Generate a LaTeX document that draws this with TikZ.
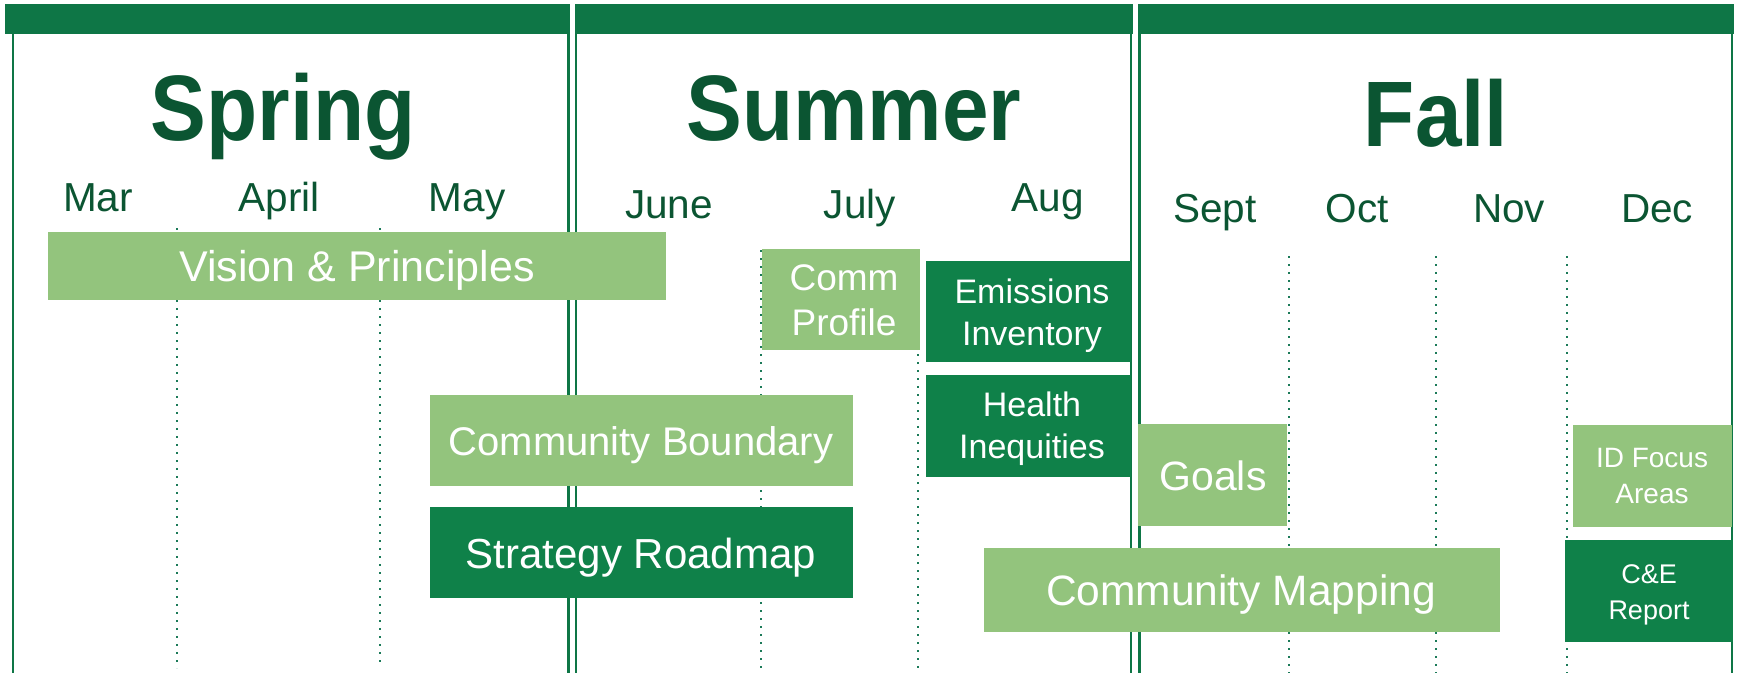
\documentclass[tikz,border=0pt]{standalone}
\usepackage{fontspec}
\setmainfont{Liberation Sans}
\newfontfamily\titlefont[FakeStretch=0.9]{Liberation Sans Bold}
\definecolor{barG}{HTML}{0E7646}
\definecolor{titleG}{HTML}{0B5532}
\definecolor{dotG}{HTML}{1B7A58}
\definecolor{lightG}{HTML}{93C47D}
\definecolor{darkG}{HTML}{0F8149}
\begin{document}
\begin{tikzpicture}[x=1pt,y=-1pt,
  bar/.style={fill=barG,draw=none},
  colline/.style={draw=barG,line width=2.2pt},
  dots/.style={draw=dotG,line width=2pt,dash pattern=on 2pt off 6pt},
  lbox/.style={fill=lightG,draw=none,inner sep=0,anchor=north west},
  dbox/.style={fill=darkG,draw=none,inner sep=0,anchor=north west},
  seasontitle/.style={anchor=base,inner sep=0,text=titleG,font=\titlefont\fontsize{93}{100}\selectfont},
  month/.style={anchor=base,inner sep=0,text=titleG,font=\fontsize{40.5}{44}\selectfont},
  btext/.style={anchor=base,inner sep=0,text=white},
]
\useasboundingbox[fill=white] (0,0) rectangle (1740,673);
% top bars
\fill[bar] (5,4) rectangle (570,34);
\fill[bar] (574.5,4) rectangle (1133,34);
\fill[bar] (1138,4) rectangle (1734,34);
% column lines
\coordinate (l1t) at (12.6,34); \coordinate (l1b) at (12.6,673);
\coordinate (l2t) at (568.5,34); \coordinate (l2b) at (568.5,673);
\coordinate (l3t) at (576,34); \coordinate (l3b) at (576,673);
\coordinate (l4t) at (1131,34); \coordinate (l4b) at (1131,673);
\coordinate (l5t) at (1139.5,34); \coordinate (l5b) at (1139.5,673);
\coordinate (l6t) at (1732,34); \coordinate (l6b) at (1732,673);
\foreach \i in {1,...,6} {\draw[colline] (l\i t) -- (l\i b);}
% dotted month dividers
\draw[dots] (177,228) -- (177,668);
\draw[dots] (380,228) -- (380,663);
\draw[dots] (760.5,250) -- (760.5,673);
\draw[dots] (918,250) -- (918,673);
\draw[dots] (1288.5,256) -- (1288.5,673);
\draw[dots] (1436,256) -- (1436,673);
\draw[dots] (1567,256) -- (1567,673);
% season titles
\node[seasontitle] (spring) at (283,140) {Spring};
\node[seasontitle] (summer) at (854,140) {Summer};
\node[seasontitle] (fall) at (1436,146) {Fall};
% months
\node[month] (mar) at (98,211) {Mar};
\node[month] (apr) at (279,211) {April};
\node[month] (may) at (467,211) {May};
\node[month] (jun) at (669,218) {June};
\node[month] (jul) at (860,218) {July};
\node[month] (aug) at (1048,211) {Aug};
\node[month] (sep) at (1215,222) {Sept};
\node[month] (oct) at (1357,222) {Oct};
\node[month] (nov) at (1509,222) {Nov};
\node[month] (dec) at (1657,222) {Dec};
% boxes
\node[lbox,minimum width=618.2pt,minimum height=67.6pt] (vision) at (47.8,232) {};
\node[lbox,minimum width=158pt,minimum height=101pt] (comm) at (762,249) {};
\node[dbox,minimum width=205pt,minimum height=101pt] (emis) at (926,261) {};
\node[dbox,minimum width=205.5pt,minimum height=101.7pt] (health) at (925.5,375) {};
\node[lbox,minimum width=423pt,minimum height=90.7pt] (bound) at (430,395) {};
\node[dbox,minimum width=423pt,minimum height=90.7pt] (road) at (430,507) {};
\node[lbox,minimum width=149pt,minimum height=101.7pt] (goals) at (1138,424) {};
\node[lbox,minimum width=515.6pt,minimum height=83.7pt] (map) at (984,548) {};
\node[lbox,minimum width=159pt,minimum height=101.7pt] (focus) at (1573,425) {};
\node[dbox,minimum width=168pt,minimum height=101.7pt] (report) at (1565,540) {};
% box texts
\node[btext,font=\fontsize{43}{46}\selectfont] at (357,281) {Vision \& Principles};
\node[btext,font=\fontsize{37}{40}\selectfont] at (844,290.7) {Comm};
\node[btext,font=\fontsize{37}{40}\selectfont] at (844,335.7) {Profile};
\node[btext,font=\fontsize{34}{37}\selectfont] at (1032,303) {Emissions};
\node[btext,font=\fontsize{34}{37}\selectfont] at (1032,345) {Inventory};
\node[btext,font=\fontsize{34}{37}\selectfont] at (1032,416.7) {Health};
\node[btext,font=\fontsize{34}{37}\selectfont] at (1032,458.3) {Inequities};
\node[btext,font=\fontsize{40}{44}\selectfont] at (641,455) {Community Boundary};
\node[btext,font=\fontsize{42}{46}\selectfont] at (641,568) {Strategy Roadmap};
\node[btext,font=\fontsize{41}{44}\selectfont] at (1213,490) {Goals};
\node[btext,font=\fontsize{42.5}{46}\selectfont] at (1241,605) {Community Mapping};
\node[btext,font=\fontsize{28}{31}\selectfont] at (1652,467.7) {ID Focus};
\node[btext,font=\fontsize{28}{31}\selectfont] at (1652,503) {Areas};
\node[btext,font=\fontsize{27}{30}\selectfont] at (1649,583.3) {C\&E};
\node[btext,font=\fontsize{27}{30}\selectfont] at (1649,619.3) {Report};
\end{tikzpicture}
\end{document}
